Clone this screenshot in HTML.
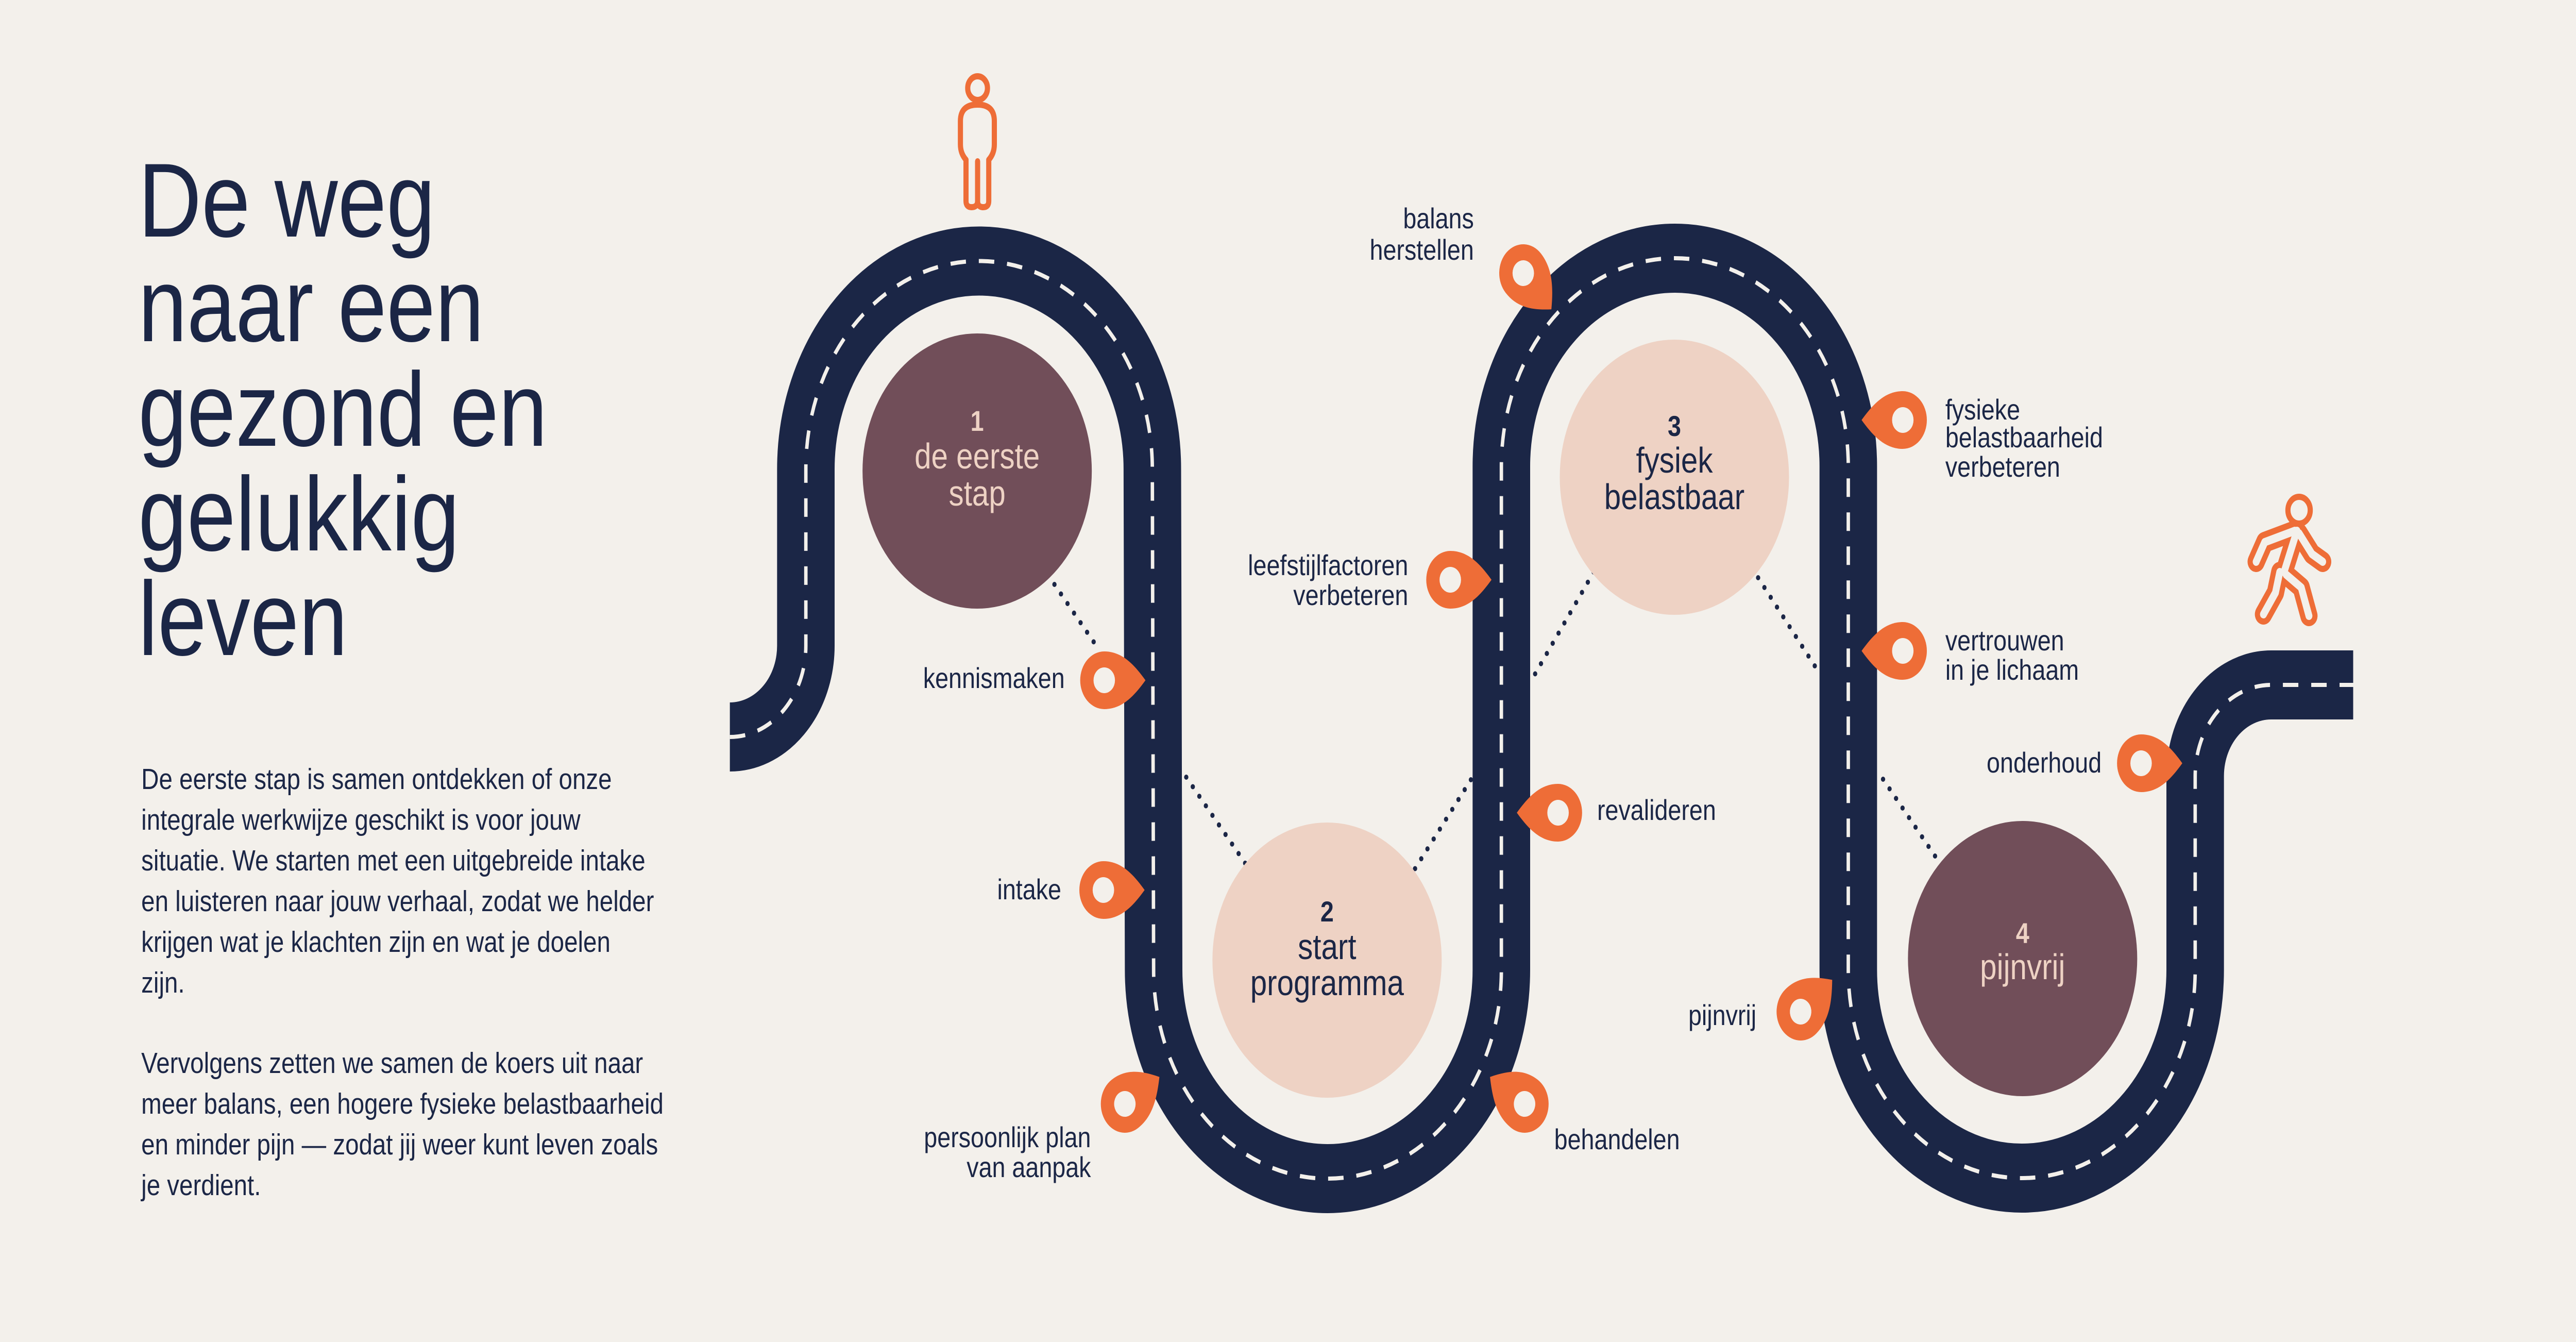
<!DOCTYPE html>
<html><head><meta charset="utf-8"><style>
html,body{margin:0;padding:0;background:#f3f0eb;overflow:hidden;width:100%;height:100%;}
svg{display:block;position:fixed;left:0;top:0;width:100vw;height:100vh;}
text{font-family:"Liberation Sans",sans-serif;}
</style></head><body>
<svg viewBox="0 0 6000 2604" preserveAspectRatio="none" xmlns="http://www.w3.org/2000/svg">
<defs>
<g id="pin"><path d="M96 0 C70 30 42 56 0 56 A56 56 0 0 1 0 -56 C42 -56 70 -30 96 0 Z" fill="#ee6d37"/><circle cx="0" cy="0" r="25" fill="#f3f0eb"/></g>
</defs>
<rect width="6000" height="2604" fill="#f3f0eb"/>

<g fill="#1b2646" font-size="204">
<text x="322" y="459">De weg</text>
<text x="322" y="662">naar een</text>
<text x="322" y="865">gezond en</text>
<text x="322" y="1068">gelukkig</text>
<text x="322" y="1271">leven</text>
</g>
<g fill="#1b2646" font-size="57">
<text x="329" y="1531">De eerste stap is samen ontdekken of onze</text>
<text x="329" y="1610">integrale werkwijze geschikt is voor jouw</text>
<text x="329" y="1689">situatie. We starten met een uitgebreide intake</text>
<text x="329" y="1768">en luisteren naar jouw verhaal, zodat we helder</text>
<text x="329" y="1847">krijgen wat je klachten zijn en wat je doelen</text>
<text x="329" y="1926">zijn.</text>
<text x="329" y="2082">Vervolgens zetten we samen de koers uit naar</text>
<text x="329" y="2161">meer balans, een hogere fysieke belastbaarheid</text>
<text x="329" y="2240">en minder pijn — zodat jij weer kunt leven zoals</text>
<text x="329" y="2319">je verdient.</text>
</g>

<path d="M1700 1430 A177 177 0 0 0 1877 1253 L1877 910 A403.5 403.5 0 0 1 2684 910 L2687 1882 A405 405 0 0 0 3497 1882 L3497 905 A404 404 0 0 1 4305 905 L4305 1882 A404 404 0 0 0 5113 1882 L5113 1506 A177 177 0 0 1 5290 1329 L5481 1329" fill="none" stroke="#1b2646" stroke-width="134"/>
<path d="M1700 1430 A177 177 0 0 0 1877 1253 L1877 910 A403.5 403.5 0 0 1 2684 910 L2687 1882 A405 405 0 0 0 3497 1882 L3497 905 A404 404 0 0 1 4305 905 L4305 1882 A404 404 0 0 0 5113 1882 L5113 1506 A177 177 0 0 1 5290 1329 L5481 1329" fill="none" stroke="#f3f0eb" stroke-width="8" stroke-dasharray="36 30"/>

<g stroke="#1b2646" stroke-width="10" stroke-linecap="round" stroke-dasharray="0 24" fill="none">
<line x1="2456" y1="1134" x2="2556" y2="1256"/>
<line x1="2763" y1="1508" x2="2902" y2="1677"/>
<line x1="3426" y1="1513" x2="3294" y2="1688"/>
<line x1="3712" y1="1110" x2="3567" y2="1320"/>
<line x1="4095" y1="1121" x2="4240" y2="1309"/>
<line x1="4386" y1="1512" x2="4516" y2="1672"/>
</g>

<circle cx="2276" cy="914" r="267" fill="#714e59"/>
<circle cx="3091" cy="1863" r="267" fill="#eed2c4"/>
<circle cx="3900" cy="926" r="267" fill="#eed2c4"/>
<circle cx="4711" cy="1860" r="267" fill="#714e59"/>
<g text-anchor="middle" font-size="70">
<text x="2276" y="836" fill="#eed2c4" font-weight="bold" font-size="56">1</text>
<text x="2276" y="909" fill="#eed2c4">de eerste</text>
<text x="2276" y="981" fill="#eed2c4">stap</text>
<text x="3091" y="1788" fill="#1b2646" font-weight="bold" font-size="56">2</text>
<text x="3091" y="1861" fill="#1b2646">start</text>
<text x="3091" y="1931" fill="#1b2646">programma</text>
<text x="3900" y="846" fill="#1b2646" font-weight="bold" font-size="56">3</text>
<text x="3900" y="917" fill="#1b2646">fysiek</text>
<text x="3900" y="988" fill="#1b2646">belastbaar</text>
<text x="4711" y="1830" fill="#eed2c4" font-weight="bold" font-size="56">4</text>
<text x="4711" y="1900" fill="#eed2c4">pijnvrij</text>
</g>

<use href="#pin" transform="translate(2572 1320)"/>
<use href="#pin" transform="translate(2570 1727)"/>
<use href="#pin" transform="translate(2620 2142) rotate(-33)"/>
<use href="#pin" transform="translate(3551 2142) rotate(-147)"/>
<use href="#pin" transform="translate(3629 1577) rotate(180)"/>
<use href="#pin" transform="translate(3378 1125)"/>
<use href="#pin" transform="translate(3548 530) rotate(47)"/>
<use href="#pin" transform="translate(4432 815) rotate(180)"/>
<use href="#pin" transform="translate(4432 1263) rotate(180)"/>
<use href="#pin" transform="translate(4987 1481)"/>
<use href="#pin" transform="translate(4194 1963) rotate(-40)"/>

<g fill="#1b2646" font-size="56">
<g text-anchor="end">
<text x="2480" y="1335">kennismaken</text>
<text x="2472" y="1745">intake</text>
<text x="2541" y="2226">persoonlijk plan</text>
<text x="2541" y="2284">van aanpak</text>
<text x="3280" y="1116">leefstijlfactoren</text>
<text x="3280" y="1174">verbeteren</text>
<text x="3433" y="443">balans</text>
<text x="3433" y="504">herstellen</text>
<text x="4895" y="1499">onderhoud</text>
<text x="4091" y="1989">pijnvrij</text>
</g>
<text x="3720" y="1591">revalideren</text>
<text x="3620" y="2230">behandelen</text>
<text x="4531" y="814">fysieke</text>
<text x="4531" y="868">belastbaarheid</text>
<text x="4531" y="925">verbeteren</text>
<text x="4531" y="1262">vertrouwen</text>
<text x="4531" y="1319">in je lichaam</text>
</g>

<g fill="none" stroke="#ee6d37" stroke-width="12" stroke-linejoin="round" stroke-linecap="round">
<circle cx="2277" cy="171" r="23"/>
<path d="M2250 310 Q2237 298 2237 280 L2237 235 Q2237 203 2277 203 Q2316 203 2316 235 L2316 280 Q2316 298 2303 310 L2303 390 Q2303 402 2290 402 Q2277 402 2277 390 Q2277 402 2263 402 Q2250 402 2250 390 Z"/>
<line x1="2277" y1="313" x2="2277" y2="390"/>
</g>

<g fill="none" stroke-linecap="round" stroke-linejoin="round">
<g stroke="#ee6d37" stroke-width="40">
<polyline points="5345,1030 5275,1052 5255,1090"/>
<polyline points="5355,1035 5385,1075 5410,1090"/>
<polyline points="5310,1110 5300,1150 5272,1192"/>
<polyline points="5325,1115 5360,1140 5378,1195"/>
<polyline points="5350,1030 5320,1110"/>
</g>
<g stroke="#f3f0eb" stroke-width="16">
<polyline points="5345,1030 5275,1052 5255,1090"/>
<polyline points="5355,1035 5385,1075 5410,1090"/>
<polyline points="5310,1110 5300,1150 5272,1192"/>
<polyline points="5325,1115 5360,1140 5378,1195"/>
<polyline points="5350,1030 5320,1110"/>
</g>
<circle cx="5355" cy="990" r="26" stroke="#ee6d37" stroke-width="12"/>
</g>
</svg>
</body></html>
